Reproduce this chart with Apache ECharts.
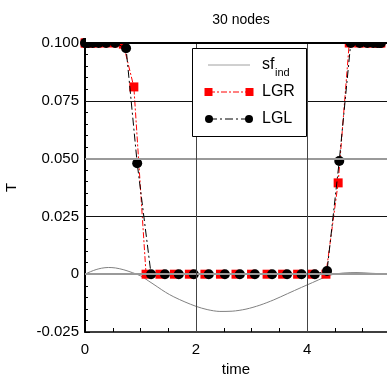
<!DOCTYPE html>
<html>
<head>
<meta charset="utf-8">
<script src="https://cdn.jsdelivr.net/npm/echarts@6/dist/echarts.min.js"></script>
<style>
  html, body { margin: 0; padding: 0; background: #fff; }
  #chart { width: 387px; height: 383px; }
</style>
</head>
<body>
<div id="chart"></div>
<script>
// Temperature profile on 30 collocation nodes
const chartTitle = '30 nodes';

// Legendre-Gauss-Lobatto nodes
const lglTime = [0, 0.016, 0.062, 0.139, 0.246, 0.381, 0.543, 0.74, 0.94, 1.19,
  1.44, 1.69, 1.96, 2.23, 2.52, 2.79, 3.06, 3.37, 3.64, 3.90,
  4.14, 4.36, 4.58, 4.787, 4.949, 5.084, 5.191, 5.268, 5.314, 5.33];
const lglT = [0.1, 0.1, 0.1, 0.1, 0.1, 0.1, 0.1, 0.0977, 0.048, 0,
  0, 0, 0, 0, 0, 0, 0, 0, 0, 0,
  0, 0.0014, 0.049, 0.1, 0.1, 0.1, 0.1, 0.1, 0.1, 0.1];

// Legendre-Gauss-Radau nodes
const lgrTime = [0, 0.012, 0.05, 0.12, 0.22, 0.35, 0.51, 0.69, 0.88, 1.10,
  1.35, 1.61, 1.88, 2.16, 2.44, 2.72, 3.00, 3.28, 3.56, 3.83,
  4.09, 4.34, 4.56, 4.76, 4.93, 5.07, 5.18, 5.26, 5.31, 5.33];
const lgrT = [0.1, 0.1, 0.1, 0.1, 0.1, 0.1, 0.1, 0.0995, 0.081, 0,
  0, 0, 0, 0, 0, 0, 0, 0, 0, 0,
  0, 0, 0.0395, 0.1, 0.1, 0.1, 0.1, 0.1, 0.1, 0.1];

// switching function sf_ind
const sfTime = [0, 0.1, 0.2, 0.3, 0.42, 0.55, 0.7, 0.85, 1.0, 1.15,
  1.3, 1.45, 1.6, 1.8, 2.0, 2.2, 2.43, 2.65, 2.9, 3.15,
  3.4, 3.65, 3.9, 4.1, 4.3, 4.45, 4.65, 4.9, 5.15, 5.44];
const sfVal = [0, 0.0011, 0.002, 0.0026, 0.0029, 0.0027, 0.0019, 0.0007, -0.0007, -0.003,
  -0.0054, -0.0078, -0.0098, -0.012, -0.0139, -0.0153, -0.0161, -0.016, -0.0151, -0.0134,
  -0.0111, -0.0084, -0.0057, -0.0036, -0.0015, -0.0002, 0.0005, 0.0007, 0.0004, 0.0001];

const yMin = -0.025, yMax = 0.1, yStep = 0.025;
const xMin = 0, xMax = 5.44, xStep = 2;

const zip = (a, b) => a.map((v, i) => [v, b[i]]);

const chart = echarts.init(document.getElementById('chart'), null, { renderer: 'canvas' });
const font = 'Liberation Sans, Arial, sans-serif';

const gridLines = [
  { yAxis: 0.075, lineStyle: { color: '#111', width: 1, type: 'solid' } },
  { yAxis: 0.05, lineStyle: { color: '#9a9a9a', width: 2, type: 'solid' } },
  { yAxis: 0.025, lineStyle: { color: '#111', width: 1, type: 'solid' } },
  { yAxis: 0, lineStyle: { color: '#9a9a9a', width: 2, type: 'solid' } },
  { xAxis: 2, lineStyle: { color: '#444', width: 1, type: 'solid' } },
  { xAxis: 4, lineStyle: { color: '#444', width: 1, type: 'solid' } }
];

chart.setOption({
  animation: false,
  backgroundColor: '#fff',
  title: {
    text: chartTitle,
    left: 236, top: 8, textAlign: 'center', z: 200,
    textStyle: { fontFamily: font, fontSize: 14, fontWeight: 'normal', color: '#000' }
  },
  grid: { left: 85, right: 0, top: 43, bottom: 51, outerBoundsMode: 'none', containLabel: false },
  xAxis: [{
    type: 'value', min: xMin, max: xMax, interval: xStep,
    name: 'time', nameLocation: 'middle', nameGap: 30,
    nameTextStyle: { fontFamily: font, fontSize: 15, color: '#000' },
    axisLine: { onZero: false, lineStyle: { color: '#000', width: 1.5 } },
    axisTick: { inside: true, length: 4, lineStyle: { color: '#000' } },
    minorTick: { show: true, splitNumber: 4, length: 4, lineStyle: { color: '#000' } },
    axisLabel: {
      fontFamily: font, fontSize: 15, color: '#000', margin: 10,
      showMaxLabel: false,
      formatter: v => String(v)
    },
    splitLine: { show: false }
  }, {
    type: 'value', position: 'top', min: xMin, max: xMax, z: 150,
    axisLine: { show: true, onZero: false, lineStyle: { color: '#000', width: 2 } },
    axisTick: { show: false }, axisLabel: { show: false }, splitLine: { show: false }
  }],
  yAxis: {
    type: 'value', min: yMin, max: yMax, interval: yStep,
    name: 'T', nameLocation: 'middle', nameGap: 66, nameRotate: 90,
    nameTextStyle: { fontFamily: font, fontSize: 15, color: '#000' },
    axisLine: { onZero: false, lineStyle: { color: '#000', width: 2 } },
    axisTick: { inside: true, length: 5, lineStyle: { color: '#000' } },
    minorTick: { show: true, splitNumber: 5, length: 3, lineStyle: { color: '#000' } },
    axisLabel: {
      fontFamily: font, fontSize: 15, color: '#000', margin: 6,
      formatter: v => Math.abs(v) < 1e-9 ? '0' : v.toFixed(3)
    },
    splitLine: { show: false }
  },
  series: [
    {
      name: 'grid', type: 'line', data: [], z: 1, silent: true,
      markLine: { silent: true, symbol: 'none', precision: 4, label: { show: false }, data: gridLines, animation: false }
    },
    {
      name: 'sf_ind', type: 'line', data: zip(sfTime, sfVal), smooth: 0.3,
      showSymbol: false, z: 2,
      lineStyle: { color: '#808080', width: 1 }
    },
    {
      name: 'LGR', type: 'line', data: zip(lgrTime, lgrT), z: 3,
      symbol: 'rect', symbolSize: 9,
      itemStyle: { color: '#ff0000' },
      lineStyle: { color: '#ff0000', width: 1, type: [6, 2, 2, 2] }
    },
    {
      name: 'LGL', type: 'line', data: zip(lglTime, lglT), z: 4,
      symbol: 'circle', symbolSize: 10,
      itemStyle: { color: '#000' },
      lineStyle: { color: '#000', width: 1, type: [8, 3, 2, 3] }
    }
  ],
  graphic: [
    // mask above the plot so markers on the top edge are cut at the border
    { type: 'rect', z: 120, silent: true, shape: { x: 86, y: 0, width: 301, height: 42.5 }, style: { fill: '#fff' } },
    // legend box
    { type: 'rect', z: 130, shape: { x: 192.5, y: 48.5, width: 114, height: 88 }, style: { fill: '#fff', stroke: '#000', lineWidth: 1 } },
    { type: 'line', z: 131, shape: { x1: 208, y1: 65, x2: 250, y2: 65 }, style: { stroke: '#a0a0a0', lineWidth: 1 } },
    { type: 'text', z: 131, x: 262, y: 65, style: { text: 'sf', font: '16px ' + font, fill: '#000', verticalAlign: 'middle' } },
    { type: 'text', z: 131, x: 275, y: 73, style: { text: 'ind', font: '11px ' + font, fill: '#000', verticalAlign: 'middle' } },
    { type: 'line', z: 131, shape: { x1: 209, y1: 92, x2: 249, y2: 92 }, style: { stroke: '#ff0000', lineWidth: 1, lineDash: [6, 2, 2, 2] } },
    { type: 'rect', z: 132, shape: { x: 204.5, y: 88, width: 8, height: 8 }, style: { fill: '#ff0000' } },
    { type: 'rect', z: 132, shape: { x: 245.5, y: 88, width: 8, height: 8 }, style: { fill: '#ff0000' } },
    { type: 'text', z: 131, x: 262, y: 92, style: { text: 'LGR', font: '16px ' + font, fill: '#000', verticalAlign: 'middle' } },
    { type: 'line', z: 131, shape: { x1: 209, y1: 119, x2: 249, y2: 119 }, style: { stroke: '#000', lineWidth: 1, lineDash: [8, 3, 2, 3] } },
    { type: 'circle', z: 132, shape: { cx: 209, cy: 119, r: 4 }, style: { fill: '#000' } },
    { type: 'circle', z: 132, shape: { cx: 249, cy: 119, r: 4 }, style: { fill: '#000' } },
    { type: 'text', z: 131, x: 262, y: 119, style: { text: 'LGL', font: '16px ' + font, fill: '#000', verticalAlign: 'middle' } }
  ]
});
</script>
</body>
</html>
